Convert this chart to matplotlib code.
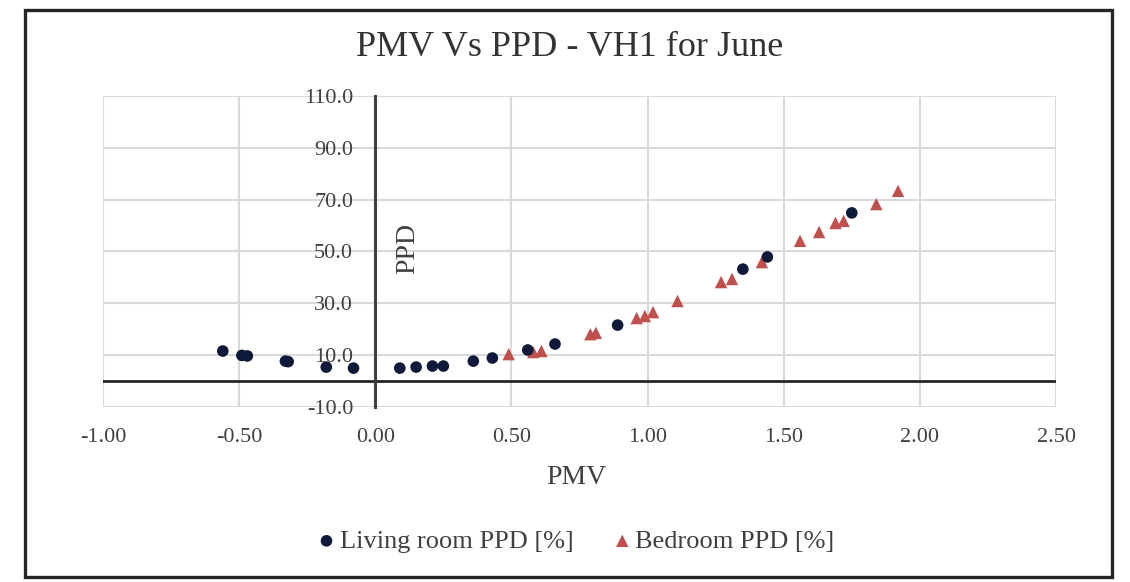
import matplotlib
matplotlib.use("Agg")
import matplotlib.pyplot as plt
from matplotlib.patches import Rectangle
from matplotlib.ticker import FormatStrFormatter, MultipleLocator

# ---- data ----
pmv_living = [-0.56, -0.49, -0.47, -0.33, -0.32, -0.18, -0.08, 0.09, 0.15, 0.21,
              0.25, 0.36, 0.43, 0.56, 0.66, 0.89, 1.35, 1.44, 1.75]
ppd_living = [11.6, 9.9, 9.7, 7.7, 7.5, 5.4, 5.0, 5.0, 5.4, 5.8,
              5.8, 7.7, 8.9, 12.0, 14.3, 21.6, 43.2, 47.9, 64.9]

pmv_bed = [0.49, 0.58, 0.61, 0.79, 0.81, 0.96, 0.99, 1.02, 1.11, 1.27,
           1.31, 1.42, 1.56, 1.63, 1.69, 1.72, 1.84, 1.92]
ppd_bed = [10.4, 11.2, 11.6, 18.1, 18.6, 24.3, 25.1, 26.6, 30.9, 38.2,
           39.4, 45.9, 54.1, 57.5, 61.0, 61.8, 68.3, 73.4]

title = "PMV Vs PPD - VH1 for June"
xlabel = "PMV"
ylabel = "PPD"
label_living = "Living room PPD [%]"
label_bed = "Bedroom PPD [%]"

plt.rcParams['font.family'] = ['Liberation Serif', 'DejaVu Serif']
plt.rcParams['axes.unicode_minus'] = False

W, H = 1130, 582
fig = plt.figure(figsize=(W / 100, H / 100), dpi=100)
fig.patch.set_facecolor('white')

# outer chart frame
fig.patches.append(Rectangle((25 / W, 1 - 577 / H), 1087 / W, 567 / H,
                             transform=fig.transFigure, fill=False,
                             edgecolor='#262626', linewidth=2.4, zorder=0))

ax = fig.add_axes([103 / W, 1 - 407 / H, 953 / W, 311 / H])
ax.set_xlim(-1.0, 2.5)
ax.set_ylim(-10, 110)
ax.xaxis.set_major_locator(MultipleLocator(0.5))
ax.set_yticks([-10, 10, 30, 50, 70, 90, 110])
ax.xaxis.set_major_formatter(FormatStrFormatter('%.2f'))
ax.yaxis.set_major_formatter(FormatStrFormatter('%.1f'))

ax.grid(True, color='#d9d9d9', linewidth=1.5, zorder=0)
ax.set_axisbelow(True)

for s in ['top', 'right', 'bottom']:
    ax.spines[s].set_visible(False)
ax.spines['left'].set_position(('data', 0))
ax.spines['left'].set_color('#404040')
ax.spines['left'].set_linewidth(2.2)
ax.spines['left'].set_zorder(1.5)
ax.axhline(0, color='#262626', linewidth=2.0, zorder=1.5)

ax.tick_params(axis='both', length=0, labelsize=16, labelcolor='#404040')
ax.tick_params(axis='y', pad=16)
ax.tick_params(axis='x', pad=15)

ax.scatter(pmv_bed, ppd_bed, marker='^', s=80, color='#c0504d',
           edgecolors='none', zorder=3, label=label_bed)
ax.scatter(pmv_living, ppd_living, marker='o', s=70, color='#0e1a3a',
           edgecolors='none', zorder=4, label=label_living)

ax.set_xlabel(xlabel, fontsize=20, color='#404040')
ax.xaxis.set_label_coords(0.497, -0.185)
ax.xaxis.label.set_verticalalignment('top')

ax.set_ylabel(ylabel, fontsize=20, color='#404040')
ax.yaxis.set_label_coords((408 - 103) / 953, (407 - 248) / 311)
ax.yaxis.label.set_verticalalignment('center')
ax.yaxis.label.set_horizontalalignment('center')

fig.text(570 / W, 1 - 47 / H, title, ha='center', va='center',
         fontsize=26, color='#333333')

h, l = ax.get_legend_handles_labels()
fig.legend(h[::-1], l[::-1], loc='center', bbox_to_anchor=(576 / W, 1 - 541 / H),
           ncol=2, frameon=False, fontsize=19, handlelength=0.7,
           handletextpad=0.15, columnspacing=1.5, labelcolor='#404040')

fig.savefig('out.png', dpi=100, facecolor='white')
